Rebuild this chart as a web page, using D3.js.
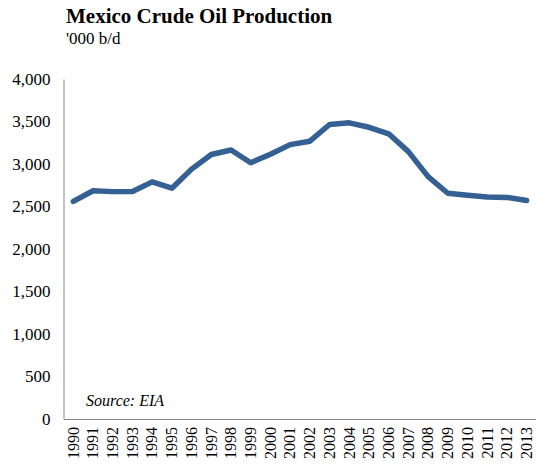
<!DOCTYPE html>
<html>
<head>
<meta charset="utf-8">
<script src="https://cdn.jsdelivr.net/npm/d3@7"></script>
<style>
	body { margin: 0; background: #fff; }
	svg { display: block; }
	text { font-family: "Times New Roman", "Liberation Serif", serif; fill: #000; }
</style>
</head>
<body>
<svg class="line-chart"></svg>
<script>
var years = ["1990","1991","1992","1993","1994","1995","1996","1997","1998","1999","2000","2001",
	"2002","2003","2004","2005","2006","2007","2008","2009","2010","2011","2012","2013"];
var production = [2560, 2685, 2675, 2677, 2790, 2715, 2940, 3112, 3165, 3015, 3115, 3228,
	3268, 3465, 3484, 3432, 3355, 3146, 2852, 2656, 2632, 2612, 2607, 2570];
var yTicks = [0, 500, 1000, 1500, 2000, 2500, 3000, 3500, 4000];

var serif = "'Liberation Serif', 'Times New Roman', serif";

function drawChart(theDiv) {
	var svgWidth = 536, svgHeight = 464;
	var margin = { top: 79, left: 63.5 };
	var width = 473, height = 340;

	var svg = d3.select(theDiv)
	.attr("width", svgWidth)
	.attr("height", svgHeight);

	svg.append("text")
	.attr("x", 66)
	.attr("y", 23)
	.style("font-family", serif)
	.style("font-weight", "bold")
	.style("font-size", "21px")
	.text("Mexico Crude Oil Production");

	svg.append("text")
	.attr("x", 66)
	.attr("y", 44)
	.style("font-family", serif)
	.style("font-size", "17px")
	.text("'000 b/d");

	var g = svg.append("g")
	.attr("transform", "translate(" + margin.left + "," + margin.top + ")");

	var x = d3.scaleBand()
	.domain(years)
	.range([0, width]);

	var y = d3.scaleLinear()
	.domain([0, 4000])
	.range([height, 0]);

	var yAxis = g.append("g")
	.call(d3.axisLeft(y).tickValues(yTicks).tickSize(0).tickPadding(13).tickFormat(d3.format(",")));
	yAxis.attr("font-family", serif);
	yAxis.selectAll("text").style("font-family", serif).style("font-size", "17px");
	yAxis.select(".domain").attr("stroke", "#888");

	// x axis line runs on past the right edge, like the original
	var xAxis = g.append("g")
	.attr("transform", "translate(0," + height + ")")
	.call(d3.axisBottom(x).tickSize(0).tickSizeOuter(0));
	xAxis.attr("font-family", serif);
	xAxis.select(".domain").attr("stroke", "#888").attr("d", "M0.5,0.5H" + (width + 6));
	xAxis.selectAll("text")
	.style("font-family", serif)
	.style("font-size", "16px")
	.attr("transform", "rotate(-90)")
	.attr("y", 0)
	.attr("x", -8)
	.attr("dy", "0.33em")
	.attr("text-anchor", "end");

	var line = d3.line()
	.x(function(d, i) { return x(years[i]) + x.bandwidth() / 2; })
	.y(function(d) { return y(d); });

	g.append("path")
	.datum(production)
	.attr("fill", "none")
	.attr("stroke", "#346094")
	.attr("stroke-linejoin", "round")
	.attr("stroke-linecap", "round")
	.attr("stroke-width", 5.5)
	.attr("d", line);

	g.append("text")
	.attr("x", 86 - margin.left)
	.attr("y", 406 - margin.top)
	.style("font-family", serif)
	.style("font-style", "italic")
	.style("font-size", "16px")
	.text("Source: EIA");
}

drawChart(".line-chart");
</script>
</body>
</html>
